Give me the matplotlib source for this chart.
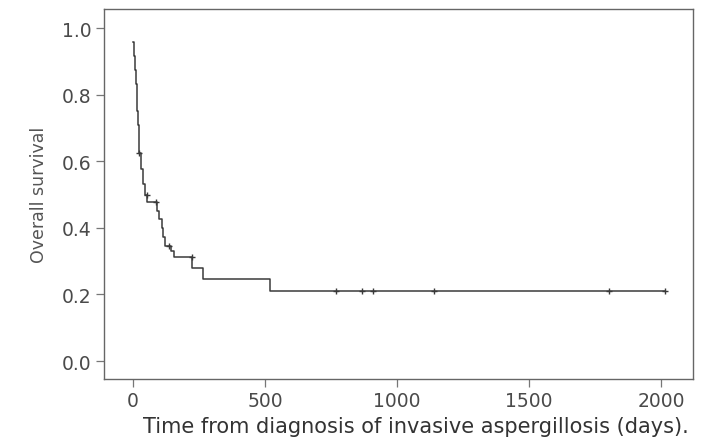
import matplotlib
matplotlib.use("Agg")
import matplotlib.pyplot as plt
import numpy as np

# Kaplan-Meier estimate
start_time = 0
start_surv = 0.958
event_times = [3, 6, 10, 13, 16, 20, 22, 23, 30, 37, 44, 54, 92, 100, 108, 115, 122, 145, 155, 224, 266, 519]
event_surv = [0.917, 0.875, 0.833, 0.792, 0.75, 0.708, 0.667, 0.625, 0.578, 0.531, 0.50, 0.479,
              0.452, 0.426, 0.399, 0.372, 0.346, 0.330, 0.314, 0.281, 0.246, 0.211]
censor_times = [24, 52, 87, 137, 222, 768, 866, 909, 1140, 1803, 2015]

x_ticks = [0, 500, 1000, 1500, 2000]
y_ticks = [0.0, 0.2, 0.4, 0.6, 0.8, 1.0]
x_label = "Time from diagnosis of invasive aspergillosis (days)."
y_label = "Overall survival"

t = np.array([start_time] + event_times + [censor_times[-1]], dtype=float)
s = np.array([start_surv] + event_surv + [event_surv[-1]], dtype=float)

def surv_at(time):
    idx = np.searchsorted(t, time, side="right") - 1
    return s[idx]

censor_s = [surv_at(c) for c in censor_times]

fig = plt.figure(figsize=(7.01, 4.39), dpi=100)
ax = fig.add_axes([0.1484, 0.1344, 0.8402, 0.8436])

line_col = "#3a3a3a"
ax.step(t, s, where="post", color=line_col, lw=1.1)
ax.plot(censor_times, censor_s, linestyle="none", marker="+", ms=4.5, mew=1.0, color=line_col)

ax.set_xlim(-110, 2121)
ax.set_ylim(-0.054, 1.059)
ax.set_xticks(x_ticks)
ax.set_yticks(y_ticks)
ax.set_xticklabels([str(v) for v in x_ticks])
ax.set_yticklabels([f"{v:.1f}" for v in y_ticks])

for sp in ax.spines.values():
    sp.set_color("#666666")
    sp.set_linewidth(1.0)

ax.tick_params(axis="both", direction="out", length=6, width=0.9, color="#777777",
               labelcolor="#4a4a4a", labelsize=13.5, pad=3)

ax.set_xlabel(x_label, fontsize=15, color="#333333")
ax.xaxis.set_label_coords(0.53, -0.1)
ax.set_ylabel(y_label, fontsize=12.5, color="#555555", labelpad=10)

fig.savefig("out.png", dpi=100)
